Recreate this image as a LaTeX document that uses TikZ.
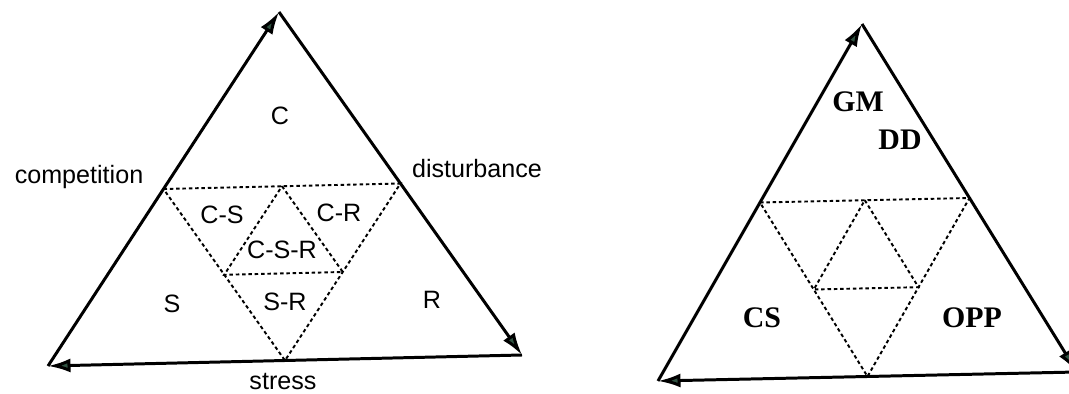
\documentclass[tikz,border=0pt]{standalone}
\usepackage{fontspec}
\setmainfont{Liberation Serif}
\setsansfont{Liberation Sans}
\usetikzlibrary{arrows.meta}
\definecolor{tipgreen}{HTML}{2F5241}
\tikzset{
  side/.style={line width=1.7pt,draw=black,-{Latex[length=4.5mm,width=2.8mm,fill=tipgreen]}},
  split/.style={line width=1.1pt,dash pattern=on 2pt off 1.6pt},
  lbl/.style={font=\sffamily\fontsize{14.3}{16}\selectfont,inner sep=0pt},
  tag/.style={font=\rmfamily\bfseries\fontsize{17}{19}\selectfont,inner sep=0pt}
}
\begin{document}
\begin{tikzpicture}[x=0.02cm,y=-0.02cm]
\useasboundingbox (0,0) rectangle (1069,394);
\clip (0,0) rectangle (1069,394);
% left triangle
\coordinate (ltop) at (279,12);
\coordinate (lleft) at (48,366);
\coordinate (lright) at (522,355);
\coordinate (lmidl) at (163.5,189);
\coordinate (lmidr) at (400.5,183.5);
\coordinate (lmidb) at (285,360.5);
\coordinate (lint) at (282,186.2);
\coordinate (linl) at (224.2,274.8);
\coordinate (linr) at (342.8,272);
\draw[side] (lleft) -- (ltop);
\draw[side] (ltop) -- (lright);
\draw[side] (lright) -- (lleft);
\draw[split] (lmidl) -- (lmidr) -- (lmidb) -- cycle;
\draw[split] (lint) -- (linr) -- (linl) -- cycle;
\node[lbl] (c) at (280,116) {C};
\node[lbl] (comp) at (79,177) {competition};
\node[lbl] (dist) at (477,169) {disturbance};
\node[lbl] (cs) at (222,215) {C-S};
\node[lbl] (cr) at (339,213) {C-R};
\node[lbl] (csr) at (282,250) {C-S-R};
\node[lbl] (s) at (172,304) {S};
\node[lbl] (sr) at (285,302) {S-R};
\node[lbl] (r) at (432,300) {R};
\node[lbl] (stress) at (283,382) {stress};
% right triangle
\coordinate (rtop) at (862,24);
\coordinate (rleft) at (658,381);
\coordinate (rright) at (1077,372);
\coordinate (rmidl) at (760,202.5);
\coordinate (rmidr) at (969.5,198);
\coordinate (rmidb) at (867.5,376.5);
\coordinate (rint) at (864.8,200.2);
\coordinate (rinl) at (813.8,289.5);
\coordinate (rinr) at (918.5,287.2);
\draw[side] (rleft) -- (rtop);
\draw[side] (rtop) -- (rright);
\draw[side] (rright) -- (rleft);
\draw[split] (rmidl) -- (rmidr) -- (rmidb) -- cycle;
\draw[split] (rint) -- (rinr) -- (rinl) -- cycle;
\node[tag] (gm) at (858,102) {GM};
\node[tag] (dd) at (900,140) {DD};
\node[tag] (csb) at (762,318) {CS};
\node[tag] (opp) at (972,318) {OPP};
\end{tikzpicture}
\end{document}
